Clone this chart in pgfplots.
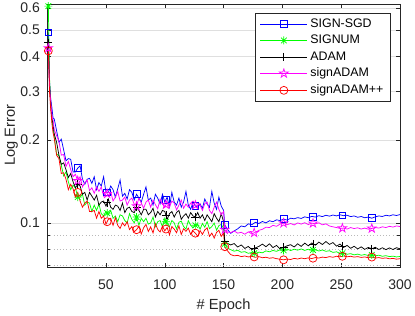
\documentclass[border=0pt]{standalone}
\usepackage{fontspec}
\setmainfont{Liberation Sans}
\usepackage{pgfplots}
\pgfplotsset{compat=1.18}
\usepackage{pgfplotstable}
\usetikzlibrary{calc}
\definecolor{axgray}{RGB}{38,38,38}
\definecolor{gridgray}{RGB}{223,223,223}
\definecolor{mgreen}{RGB}{0,255,0}
\definecolor{mmag}{RGB}{255,0,255}

\pgfdeclareplotmark{pentagram}{%
  \pgfpathmoveto{\pgfpointpolar{90}{\pgfplotmarksize}}%
  \pgfpathlineto{\pgfpointpolar{126}{0.382\pgfplotmarksize}}%
  \pgfpathlineto{\pgfpointpolar{162}{\pgfplotmarksize}}%
  \pgfpathlineto{\pgfpointpolar{198}{0.382\pgfplotmarksize}}%
  \pgfpathlineto{\pgfpointpolar{234}{\pgfplotmarksize}}%
  \pgfpathlineto{\pgfpointpolar{270}{0.382\pgfplotmarksize}}%
  \pgfpathlineto{\pgfpointpolar{306}{\pgfplotmarksize}}%
  \pgfpathlineto{\pgfpointpolar{342}{0.382\pgfplotmarksize}}%
  \pgfpathlineto{\pgfpointpolar{18}{\pgfplotmarksize}}%
  \pgfpathlineto{\pgfpointpolar{54}{0.382\pgfplotmarksize}}%
  \pgfpathclose\pgfusepathqstroke}
\pgfdeclareplotmark{mstar}{%
  \pgfpathmoveto{\pgfpoint{-\pgfplotmarksize}{0pt}}\pgfpathlineto{\pgfpoint{\pgfplotmarksize}{0pt}}%
  \pgfpathmoveto{\pgfpoint{0pt}{-\pgfplotmarksize}}\pgfpathlineto{\pgfpoint{0pt}{\pgfplotmarksize}}%
  \pgfpathmoveto{\pgfpoint{-0.707\pgfplotmarksize}{-0.707\pgfplotmarksize}}\pgfpathlineto{\pgfpoint{0.707\pgfplotmarksize}{0.707\pgfplotmarksize}}%
  \pgfpathmoveto{\pgfpoint{-0.707\pgfplotmarksize}{0.707\pgfplotmarksize}}\pgfpathlineto{\pgfpoint{0.707\pgfplotmarksize}{-0.707\pgfplotmarksize}}%
  \pgfusepathqstroke}

\pgfplotstableread{
ep sgd signum adam sadam sadampp
1 0.490 0.610 0.450 0.430 0.420
2 0.325 0.335 0.318 0.312 0.298
3 0.282 0.268 0.272 0.275 0.258
4 0.262 0.236 0.240 0.246 0.230
5 0.240 0.220 0.228 0.236 0.212
6 0.238 0.205 0.210 0.218 0.203
8 0.216 0.178 0.196 0.207 0.176
10 0.196 0.175 0.176 0.198 0.171
12 0.201 0.162 0.163 0.176 0.151
14 0.184 0.148 0.165 0.177 0.152
16 0.168 0.153 0.156 0.160 0.144
18 0.171 0.141 0.146 0.167 0.132
20 0.170 0.132 0.151 0.156 0.138
22 0.153 0.137 0.141 0.147 0.133
24 0.153 0.134 0.134 0.150 0.124
26 0.158 0.124 0.138 0.142 0.129
28 0.161 0.124 0.136 0.147 0.120
30 0.144 0.127 0.127 0.135 0.114
32 0.138 0.116 0.129 0.140 0.118
34 0.144 0.119 0.121 0.143 0.120
36 0.145 0.118 0.129 0.131 0.110
38 0.139 0.110 0.125 0.134 0.110
40 0.147 0.116 0.121 0.128 0.111
42 0.132 0.111 0.126 0.135 0.104
44 0.140 0.117 0.116 0.130 0.110
46 0.136 0.108 0.119 0.135 0.104
48 0.147 0.106 0.120 0.125 0.106
50 0.129 0.110 0.115 0.130 0.099
52 0.129 0.107 0.122 0.125 0.103
54 0.136 0.111 0.114 0.130 0.104
56 0.132 0.104 0.112 0.120 0.098
58 0.124 0.106 0.116 0.124 0.1045
60 0.133 0.101 0.115 0.130 0.098
62 0.143 0.107 0.111 0.120 0.0955
64 0.125 0.106 0.118 0.121 0.100
66 0.128 0.102 0.109 0.124 0.0975
68 0.122 0.100 0.113 0.116 0.101
70 0.132 0.108 0.114 0.121 0.0946
72 0.129 0.103 0.110 0.123 0.097
74 0.121 0.100 0.109 0.117 0.0929
76 0.127 0.105 0.114 0.115 0.0945
78 0.123 0.098 0.111 0.123 0.0972
80 0.119 0.104 0.107 0.118 0.0912
82 0.127 0.101 0.112 0.113 0.096
84 0.135 0.104 0.112 0.119 0.0988
86 0.121 0.099 0.107 0.121 0.0931
88 0.123 0.100 0.109 0.114 0.0967
90 0.116 0.105 0.113 0.121 0.092
92 0.127 0.097 0.105 0.1165 0.0994
94 0.123 0.101 0.110 0.1125 0.0947
96 0.117 0.102 0.107 0.122 0.0927
98 0.127 0.097 0.111 0.117 0.0974
100 0.119 0.104 0.110 0.114 0.0936
102 0.124 0.0985 0.103 0.119 0.0963
104 0.114 0.097 0.108 0.114 0.0905
106 0.129 0.102 0.110 0.120 0.097
108 0.119 0.100 0.105 0.118 0.095
110 0.116 0.095 0.109 0.1115 0.0921
112 0.123 0.1005 0.111 0.116 0.0976
114 0.114 0.1015 0.103 0.121 0.0908
116 0.119 0.097 0.106 0.113 0.0953
118 0.130 0.095 0.108 0.117 0.0932
120 0.116 0.102 0.104 0.114 0.0958
122 0.112 0.098 0.109 0.118 0.0909
124 0.119 0.096 0.106 0.120 0.0935
126 0.115 0.098 0.105 0.116 0.0918
128 0.114 0.0988 0.109 0.1156 0.0894
130 0.117 0.0949 0.104 0.116 0.0938
132 0.113 0.0995 0.107 0.111 0.0909
134 0.122 0.0965 0.102 0.1175 0.0943
136 0.117 0.1011 0.107 0.119 0.096
138 0.114 0.0953 0.104 0.111 0.0894
140 0.130 0.097 0.101 0.108 0.0919
142 0.118 0.0999 0.108 0.114 0.0881
144 0.112 0.0941 0.104 0.119 0.0924
146 0.124 0.0978 0.101 0.112 0.094
148 0.115 0.0987 0.108 0.107 0.0893
150 0.111 0.0955 0.101 0.110 0.0918
151 0.0985 0.0840 0.0858 0.0945 0.0820
153 0.0950 0.0812 0.0845 0.0928 0.0795
156 0.0917 0.0800 0.0832 0.0922 0.0768
159 0.0935 0.0790 0.0842 0.0935 0.0760
162 0.0952 0.0796 0.0818 0.0918 0.0763
165 0.0975 0.0783 0.0832 0.0925 0.0755
168 0.0968 0.0787 0.0808 0.0910 0.0759
171 0.0992 0.0776 0.0822 0.0928 0.0753
174 0.0985 0.0781 0.0800 0.0912 0.0757
177 0.1005 0.0774 0.0812 0.0925 0.0751
180 0.0995 0.0784 0.0822 0.0940 0.0755
183 0.1012 0.0779 0.0838 0.0948 0.0748
186 0.1000 0.0792 0.0820 0.0965 0.0751
189 0.1018 0.0786 0.0840 0.0962 0.0745
192 0.1010 0.0795 0.0814 0.0980 0.0748
195 0.1026 0.0789 0.0829 0.0972 0.0742
198 0.1020 0.0800 0.0805 0.0990 0.0739
201 0.1032 0.0796 0.0815 0.0998 0.0735
204 0.1024 0.0804 0.0826 0.0985 0.0740
207 0.1040 0.0794 0.0834 0.0995 0.0737
210 0.1035 0.0803 0.0818 0.0983 0.0744
213 0.1045 0.0797 0.0840 0.1000 0.0740
216 0.1038 0.0805 0.0822 0.0990 0.0746
219 0.1052 0.0795 0.0845 0.1002 0.0742
222 0.1044 0.0803 0.0826 0.0986 0.0747
225 0.1056 0.0797 0.0846 0.0999 0.0743
228 0.1050 0.0801 0.0830 0.0992 0.0749
231 0.1062 0.0791 0.0852 0.1001 0.0746
234 0.1054 0.0798 0.0835 0.0984 0.0752
237 0.1066 0.0789 0.0856 0.0992 0.0749
240 0.1058 0.0793 0.0836 0.0975 0.0755
243 0.1068 0.0782 0.0849 0.0968 0.0751
246 0.1060 0.0786 0.0824 0.0962 0.0757
249 0.1070 0.0776 0.0838 0.0955 0.0754
252 0.1062 0.0778 0.0815 0.0958 0.0759
255 0.1066 0.0770 0.0829 0.0950 0.0754
258 0.1054 0.0774 0.0809 0.0962 0.0757
261 0.1060 0.0766 0.0823 0.0954 0.0752
264 0.1048 0.0771 0.0805 0.0960 0.0755
267 0.1055 0.0764 0.0819 0.0950 0.0750
270 0.1044 0.0768 0.0802 0.0958 0.0753
273 0.1050 0.0762 0.0815 0.0949 0.0748
276 0.1040 0.0766 0.0806 0.0955 0.0752
279 0.1052 0.0760 0.0816 0.0962 0.0746
282 0.1060 0.0764 0.0801 0.0958 0.0749
285 0.1055 0.0757 0.0813 0.0968 0.0744
288 0.1066 0.0761 0.0800 0.0962 0.0747
291 0.1060 0.0755 0.0812 0.0972 0.0741
294 0.1070 0.0758 0.0801 0.0966 0.0744
297 0.1064 0.0753 0.0813 0.0975 0.0739
300 0.1072 0.0756 0.0806 0.0970 0.0742
}\data

\begin{document}
\begin{tikzpicture}
\begin{axis}[
  name=ax, scale only axis, width=264.75pt, height=197.25pt,
  xmin=0, xmax=300, ymode=log, ymin=0.0693, ymax=0.621,
  xtick={50,100,...,300},
  ytick={0.1,0.2,0.3,0.4,0.5,0.6}, yticklabels={0.1,0.2,0.3,0.4,0.5,0.6},
  extra y ticks={0.07,0.08,0.09}, extra y tick labels={},
  extra y tick style={ymajorgrids=true, major grid style={gray!55, dotted, line width=0.5pt}, major tick length=2pt},
  ymajorgrids, major grid style={gridgray, line width=0.4pt},
  tick align=inside, tick pos=both, xticklabel pos=bottom, yticklabel pos=left,
  major tick length=3pt,
  axis line style={axgray, line width=0.4pt}, tick style={axgray, line width=0.4pt},
  ticklabel style={font=\fontsize{10.5}{12}\selectfont, text=axgray},
  xticklabel style={yshift=-6pt},
  yticklabel style={xshift=-2pt},
  /pgf/number format/assume math mode=true,
  xlabel={\# Epoch}, ylabel={Log Error},
  ylabel shift=-5pt,
  label style={font=\fontsize{11}{13}\selectfont, text=axgray},
  legend style={at={(axis description cs:0.9745,0.9658)}, anchor=north east,
    draw=axgray, fill=white, font=\fontsize{9.3}{11}\selectfont, line width=0.4pt,
    inner xsep=3.5pt, inner ysep=2pt, row sep=0.4pt, cells={anchor=west}},
  legend image code/.code={\draw[mark repeat=2,mark phase=2,#1] plot coordinates {(0cm,0cm) (0.62cm,0cm) (1.24cm,0cm)};},
]
\addplot[blue, line width=0.55pt, forget plot] table[x=ep, y=sgd] {\data};
\addplot[only marks, blue, mark=square, mark size=2.6pt, line width=0.55pt, forget plot] coordinates {(1,0.49) (26,0.158) (51,0.129) (76,0.127) (101,0.1215) (126,0.115) (151,0.0985) (176,0.0998) (201,0.1032) (226,0.1054) (251,0.1065) (276,0.104)};
\addplot[mgreen, line width=0.55pt, forget plot] table[x=ep, y=signum] {\data};
\addplot[only marks, mgreen, mark=mstar, mark size=3pt, line width=0.55pt, forget plot] coordinates {(1,0.61) (26,0.124) (51,0.1085) (76,0.105) (101,0.101) (126,0.098) (151,0.084) (176,0.0776) (201,0.0796) (226,0.0798) (251,0.0777) (276,0.0766)};
\addplot[black, line width=0.55pt, forget plot] table[x=ep, y=adam] {\data};
\addplot[only marks, black, mark=+, mark size=3pt, line width=0.55pt, forget plot] coordinates {(1,0.45) (26,0.138) (51,0.1185) (76,0.114) (101,0.1065) (126,0.105) (151,0.0858) (176,0.0806) (201,0.0815) (226,0.0839) (251,0.0823) (276,0.0806)};
\addplot[mmag, line width=0.55pt, forget plot] table[x=ep, y=sadam] {\data};
\addplot[only marks, mmag, mark=pentagram, mark size=3.4pt, line width=0.55pt, forget plot] coordinates {(1,0.43) (26,0.142) (51,0.1275) (76,0.115) (101,0.1165) (126,0.116) (151,0.0945) (176,0.0921) (201,0.0998) (226,0.0997) (251,0.0957) (276,0.0955)};
\addplot[red, line width=0.55pt, forget plot] table[x=ep, y=sadampp] {\data};
\addplot[only marks, red, mark=o, mark size=3pt, line width=0.55pt, forget plot] coordinates {(1,0.42) (26,0.129) (51,0.101) (76,0.0945) (101,0.095) (126,0.0918) (151,0.082) (176,0.0753) (201,0.0735) (226,0.0745) (251,0.0757) (276,0.0752)};
\addlegendimage{blue, mark=square, mark size=2.6pt, line width=0.55pt}
\addlegendentry{SIGN-SGD}
\addlegendimage{mgreen, mark=mstar, mark size=3pt, line width=0.55pt}
\addlegendentry{SIGNUM}
\addlegendimage{black, mark=+, mark size=3pt, line width=0.55pt}
\addlegendentry{ADAM}
\addlegendimage{mmag, mark=pentagram, mark size=3.4pt, line width=0.55pt}
\addlegendentry{signADAM}
\addlegendimage{red, mark=o, mark size=3pt, line width=0.55pt}
\addlegendentry{signADAM++}
\end{axis}
\pgfresetboundingbox
\path[use as bounding box] ($(ax.south west)+(-35.4pt,-36.75pt)$) rectangle ($(ax.north east)+(11.25pt,3pt)$);
\end{tikzpicture}
\end{document}
